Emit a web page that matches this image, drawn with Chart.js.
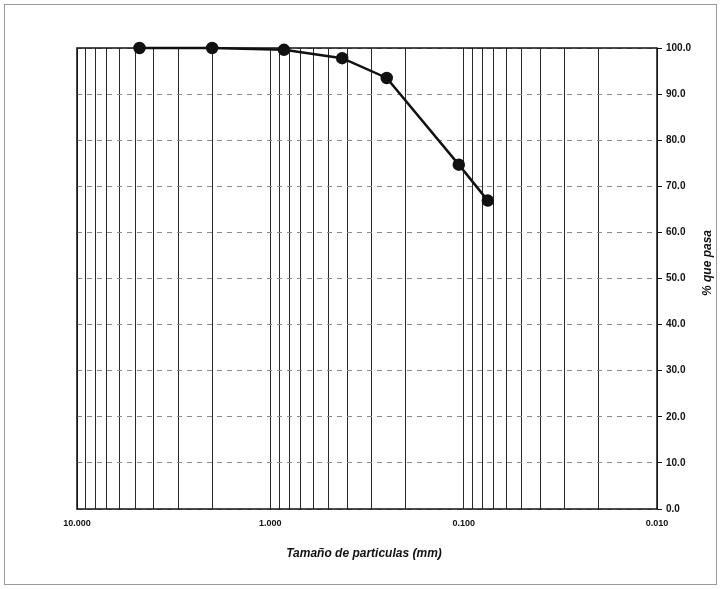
<!DOCTYPE html>
<html>
<head>
<meta charset="utf-8">
<script src="https://cdn.jsdelivr.net/npm/chart.js@4.4.1/dist/chart.umd.min.js"></script>
<style>
  html, body { margin: 0; padding: 0; background: #fff; }
  #wrap { width: 721px; height: 589px; }
</style>
</head>
<body>
<div id="wrap"><canvas id="granulometria" width="721" height="589"></canvas></div>
<script>
// tamaños de tamiz (mm) y % que pasa
const sizes = [4.75, 2.0, 0.85, 0.425, 0.25, 0.106, 0.075];
const passing = [100.0, 100.0, 99.6, 97.8, 93.5, 74.7, 66.9];
const decades = [10, 1, 0.1, 0.01];
const xTickLabels = ["10.000", "1.000", "0.100", "0.010"];
const xTitle = "Tamaño de particulas (mm)";
const yTitle = "% que pasa";

const FONT = "'Liberation Sans', Arial, sans-serif";

const framePlugin = {
  id: "frame",
  beforeDatasetsDraw(chart) {
    const ctx = chart.ctx;
    const a = chart.chartArea;
    ctx.save();
    // borde del area de trazado
    ctx.strokeStyle = "#111";
    ctx.lineWidth = 1.5;
    ctx.strokeRect(a.left, a.top, a.right - a.left, a.bottom - a.top);
    ctx.restore();
  },
  afterDraw(chart) {
    const ctx = chart.ctx;
    const a = chart.chartArea;
    ctx.save();
    // marco exterior
    ctx.strokeStyle = "#9a9a9a";
    ctx.lineWidth = 1;
    ctx.strokeRect(4.5, 4.5, 712, 580);
    // titulos
    ctx.fillStyle = "#111";
    ctx.font = "italic bold 12px " + FONT;
    ctx.textAlign = "center";
    ctx.textBaseline = "middle";
    ctx.fillText(xTitle, (a.left + a.right) / 2 - 3, 554);
    ctx.translate(708, 263);
    ctx.rotate(-Math.PI / 2);
    ctx.fillText(yTitle, 0, 0);
    ctx.restore();
  }
};

new Chart(document.getElementById("granulometria"), {
  type: "scatter",
  data: {
    datasets: [{
      data: sizes.map((s, i) => ({ x: s, y: passing[i] })),
      showLine: true,
      clip: false,
      borderColor: "#111",
      borderWidth: 2.5,
      backgroundColor: "#111",
      pointRadius: 5,
      pointHoverRadius: 5,
      tension: 0
    }]
  },
  options: {
    responsive: false,
    animation: false,
    layout: { padding: { left: 77, top: 48, right: 0, bottom: 0 } },
    plugins: {
      legend: { display: false },
      tooltip: { enabled: false }
    },
    scales: {
      x: {
        type: "logarithmic",
        reverse: true,
        min: 0.01,
        max: 10,
        afterBuildTicks: (scale) => {
          let t = [];
          for (let d = 0; d < 3; d++) {
            let base = decades[d + 1];
            for (let k = 1; k <= 9; k++) t.push({ value: base * k });
          }
          t.push({ value: 10 });
          scale.ticks = t;
        },
        afterFit: (scale) => { scale.height = 80; },
        grid: { color: "#2a2a2a", lineWidth: 1, drawTicks: false },
        border: { display: false },
        ticks: {
          autoSkip: false,
          maxRotation: 0,
          padding: 9,
          color: "#111",
          font: { family: FONT, size: 9, weight: "bold" },
          callback: (v) => {
            let i = decades.findIndex(d => Math.abs(d - v) / d < 1e-6);
            return i >= 0 ? xTickLabels[i] : "";
          }
        }
      },
      y: {
        position: "right",
        min: 0,
        max: 100,
        afterFit: (scale) => { scale.width = 64; },
        grid: {
          color: "#8a8a8a",
          lineWidth: 1,
          tickBorderDash: [],
          tickColor: "#111",
          tickLength: 5
        },
        border: { display: false, dash: [5, 5] },
        ticks: {
          stepSize: 10,
          padding: 4,
          color: "#111",
          font: { family: FONT, size: 10, weight: "bold" },
          callback: (v) => v.toFixed(1)
        }
      }
    }
  },
  plugins: [framePlugin]
});
</script>
</body>
</html>
